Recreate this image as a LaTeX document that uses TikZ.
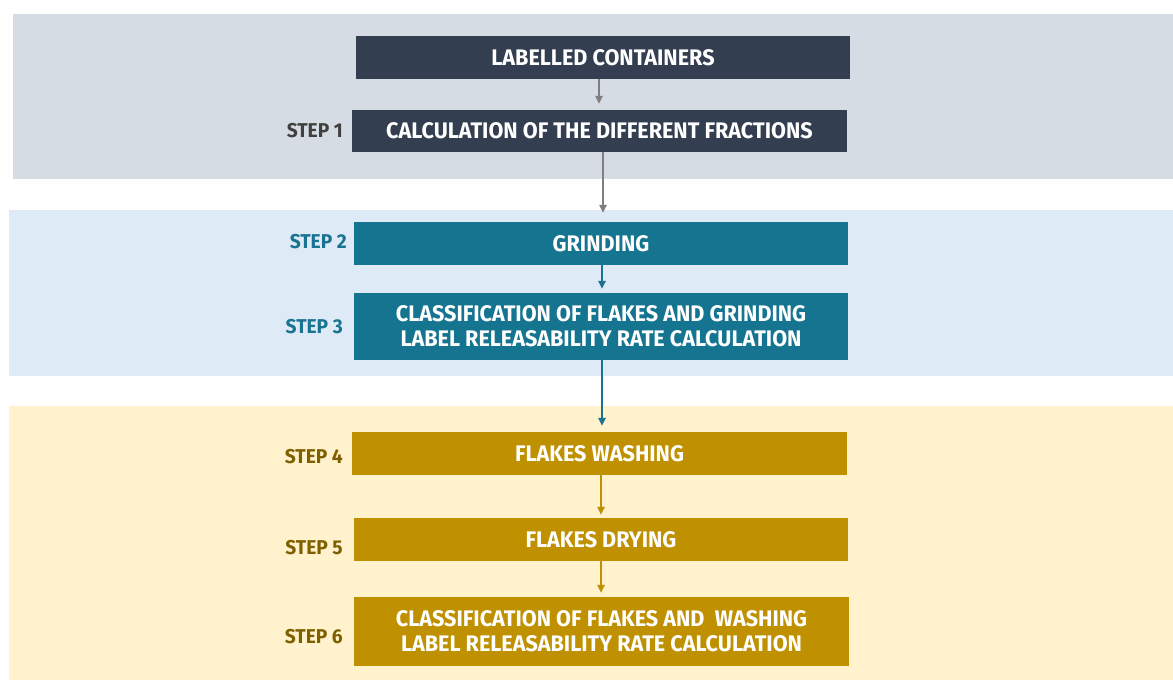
\documentclass[tikz,border=0pt]{standalone}
\usepackage{fontspec}
\setmainfont{Fira Sans}[UprightFont={* Bold},FakeStretch=0.96]
\usetikzlibrary{arrows.meta}
\definecolor{bandgray}{HTML}{D6DCE4}
\definecolor{bandblue}{HTML}{DEEBF7}
\definecolor{bandyellow}{HTML}{FFF2CC}
\definecolor{navy}{HTML}{333F50}
\definecolor{teal}{HTML}{157591}
\definecolor{gold}{HTML}{BF9000}
\definecolor{stepgray}{HTML}{404040}
\definecolor{stepteal}{HTML}{1A7390}
\definecolor{stepgold}{HTML}{7F6000}
\definecolor{arrgray}{HTML}{7F7F7F}
\tikzset{
  box/.style={fill=#1, text=white, inner sep=0pt, minimum width=494pt, font=\fontsize{22.5}{25}\selectfont, align=center},
  steplbl/.style={anchor=east, text=#1, inner sep=0pt, font=\fontsize{20}{24}\selectfont},
  arrline/.style={draw=#1, line width=1.5pt, -{Triangle[length=8pt,width=7.5pt]}},
}
\begin{document}
\begin{tikzpicture}[x=1pt,y=-1pt]
\useasboundingbox (0,0) rectangle (1173,680);
\fill[white] (0,0) rectangle (1173,680);
% bands
\fill[bandgray] (13,14) rectangle (1173,179);
\fill[bandblue] (9,210) rectangle (1173,376);
\fill[bandyellow] (9,406) rectangle (1173,680);
% boxes
\node[box=navy, minimum height=43pt] (lc) at (603,57.5) {LABELLED CONTAINERS};
\node[box=navy, minimum height=42pt, minimum width=495pt] (s1) at (599.5,131) {CALCULATION OF THE DIFFERENT FRACTIONS};
\node[box=teal, minimum height=43pt] (s2) at (601,243.5) {GRINDING};
\node[box=teal, minimum height=67pt] (s3) at (601,326.5) {CLASSIFICATION OF FLAKES AND GRINDING\\LABEL RELEASABILITY RATE CALCULATION};
\node[box=gold, minimum height=43pt, minimum width=495pt] (s4) at (599.5,453.5) {FLAKES WASHING};
\node[box=gold, minimum height=43pt] (s5) at (601,539.5) {FLAKES DRYING};
\node[box=gold, minimum height=69pt, minimum width=495pt] (s6) at (601.5,631.5) {CLASSIFICATION OF FLAKES AND\ \ WASHING\\LABEL RELEASABILITY RATE CALCULATION};
% step labels
\node[steplbl=stepgray] (l1) at (343,131) {STEP 1};
\node[steplbl=stepteal] (l2) at (347,242) {STEP 2};
\node[steplbl=stepteal] (l3) at (343,327) {STEP 3};
\node[steplbl=stepgold] (l4) at (343,457) {STEP 4};
\node[steplbl=stepgold] (l5) at (343,548) {STEP 5};
\node[steplbl=stepgold] (l6) at (343,637) {STEP 6};
% arrows
\draw[arrline=arrgray, shorten >=6pt] ([xshift=-4pt]lc.south) -- ([xshift=-4pt]lc.south |- s1.north);
\draw[arrline=arrgray, shorten >=9pt] ([xshift=3.5pt]s1.south) -- ([xshift=3.5pt]s1.south |- s2.north);
\draw[arrline=stepteal, shorten >=4pt] ([xshift=1pt]s2.south) -- ([xshift=1pt]s2.south |- s3.north);
\draw[arrline=stepteal, shorten >=6pt] ([xshift=1pt]s3.south) -- ([xshift=1pt]s3.south |- s4.north);
\draw[arrline=gold, shorten >=3pt] ([xshift=1.5pt]s4.south) -- ([xshift=1.5pt]s4.south |- s5.north);
\draw[arrline=gold, shorten >=4pt] (s5.south) -- (s5.south |- s6.north);
\end{tikzpicture}
\end{document}
